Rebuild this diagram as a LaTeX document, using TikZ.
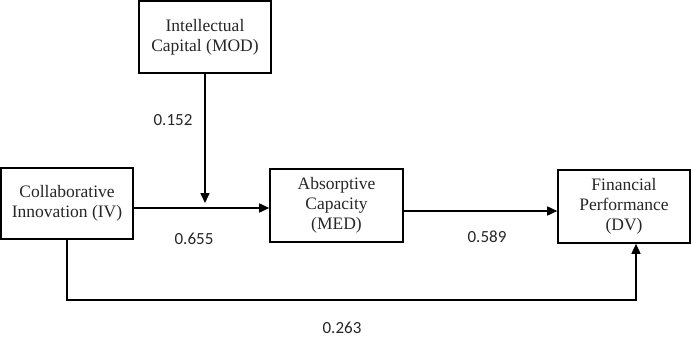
\documentclass[tikz,border=0pt]{standalone}
\usepackage{fontspec}
\setmainfont{Liberation Serif}
\newfontfamily\numfont{Carlito}
\usetikzlibrary{arrows.meta}
\begin{document}
\begin{tikzpicture}[x=1pt,y=-1pt,
  box/.style={draw, line width=1.6pt, align=center, inner sep=0pt,
    font=\fontsize{17.5}{20}\selectfont, text=black!85},
  conn/.style={line width=1.6pt, -{Triangle[length=10pt,width=9pt]}},
  lbl/.style={font=\numfont\fontsize{17}{19}\selectfont, text=black!85}]
\useasboundingbox (0,0) rectangle (691,337);
\node[box, minimum width=132pt, minimum height=72pt] (mod) at (205,37) {Intellectual\\Capital (MOD)};
\node[box, minimum width=132pt, minimum height=71pt] (iv) at (67,203.5) {Collaborative\\Innovation (IV)};
\node[box, minimum width=133pt, minimum height=73pt] (med) at (336.5,205.5) {Absorptive\\Capacity\\(MED)};
\node[box, minimum width=132pt, minimum height=73pt] (dv) at (624,206.5) {Financial\\Performance\\(DV)};
\coordinate (j) at (205,203);
\draw[conn] (iv.east |- 0,208) -- (med.west |- 0,208);
\draw[conn] (mod.south) -- (j);
\draw[conn] (med.east |- 0,211) -- (dv.west |- 0,211);
\coordinate (dvin) at ([xshift=12pt]dv.south);
\draw[conn] (iv.south) -- (iv.south |- 0,300) -| (dvin);
\node[lbl] (l1) at (173,120) {0.152};
\node[lbl] (l2) at (194,239) {0.655};
\node[lbl] (l3) at (487,237) {0.589};
\node[lbl] (l4) at (342,328) {0.263};
\end{tikzpicture}
\end{document}
